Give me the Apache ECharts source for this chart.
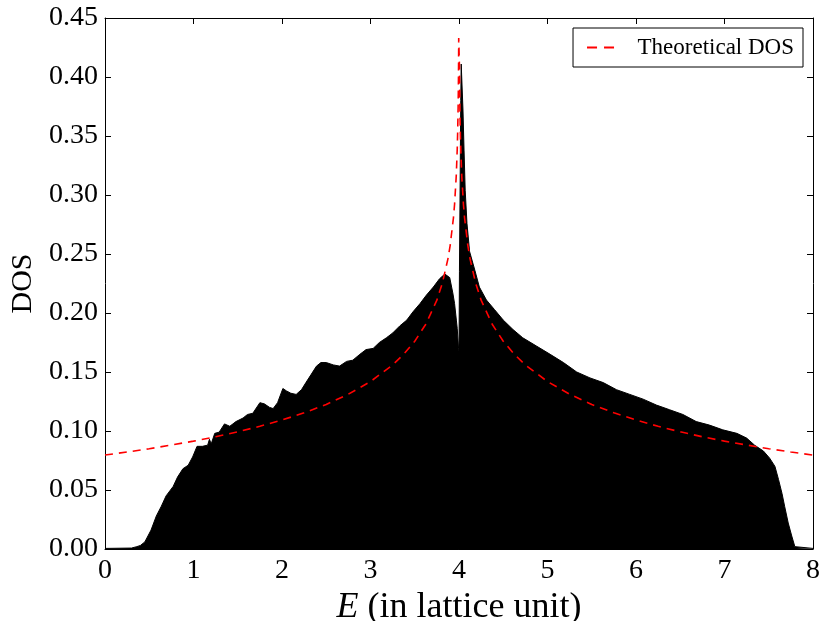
<!DOCTYPE html>
<html>
<head>
<meta charset="utf-8">
<script src="https://cdn.jsdelivr.net/npm/echarts@6/dist/echarts.min.js"></script>
<style>
html,body{margin:0;padding:0;background:#fff;}
#chart{width:820px;height:621px;}
</style>
</head>
<body>
<div id="chart"></div>
<script>
// Histogram (simulated DOS)
const histE = [0.00,0.30,0.36,0.40,0.45,0.52,0.58,0.635,0.69,0.77,0.82,0.88,0.94,0.99,1.04,1.10,1.16,1.18,1.20,1.24,1.29,1.35,1.41,1.48,1.56,1.61,1.67,1.75,1.80,1.86,1.90,1.95,2.01,2.05,2.10,2.16,2.22,2.27,2.33,2.39,2.44,2.50,2.58,2.65,2.73,2.80,2.88,2.95,3.03,3.10,3.18,3.25,3.33,3.41,3.48,3.56,3.63,3.71,3.78,3.84,3.895,3.93,3.95,3.97,3.98,3.995,4.000,4.005,4.020,4.025,4.040,4.045,4.057,4.07,4.09,4.12,4.18,4.23,4.31,4.40,4.50,4.61,4.72,4.875,5.03,5.18,5.33,5.48,5.63,5.78,5.93,6.08,6.23,6.38,6.53,6.68,6.83,6.98,7.14,7.25,7.34,7.44,7.51,7.57,7.61,7.65,7.68,7.72,7.76,7.795,7.81,8.00];
const histDOS = [0.0005,0.0008,0.002,0.003,0.006,0.016,0.028,0.036,0.045,0.053,0.061,0.068,0.071,0.078,0.087,0.087,0.088,0.093,0.089,0.098,0.099,0.106,0.104,0.108,0.111,0.114,0.115,0.124,0.123,0.120,0.119,0.124,0.136,0.134,0.132,0.131,0.135,0.141,0.148,0.155,0.158,0.158,0.156,0.155,0.159,0.160,0.165,0.169,0.170,0.175,0.179,0.183,0.189,0.194,0.201,0.208,0.215,0.222,0.229,0.233,0.230,0.217,0.208,0.194,0.187,0.170,0.168,0.235,0.380,0.411,0.411,0.372,0.338,0.304,0.276,0.252,0.236,0.222,0.211,0.203,0.194,0.186,0.179,0.172,0.165,0.158,0.150,0.145,0.141,0.135,0.131,0.127,0.122,0.118,0.114,0.108,0.105,0.101,0.098,0.094,0.088,0.083,0.077,0.070,0.059,0.047,0.036,0.022,0.011,0.002,0.0005,0.0005];

// Theoretical DOS curve
const theoE = [0,0.25,0.5,0.75,1.0,1.25,1.5,1.75,2.0,2.25,2.5,2.75,3.0,3.25,3.375,3.5,3.625,3.75,3.8125,3.875,3.9,3.9375,3.95,3.96875,3.98,3.985,3.99,3.993,3.995,3.9969,4.0031,4.005,4.007,4.01,4.015,4.02,4.03125,4.05,4.0625,4.1,4.125,4.1875,4.25,4.375,4.5,4.625,4.75,5.0,5.25,5.5,5.75,6.0,6.25,6.5,6.75,7.0,7.25,7.5,7.75,8.0];
const theoDOS = [0.0796,0.0822,0.0850,0.0881,0.0914,0.0951,0.0993,0.1040,0.1093,0.1154,0.1225,0.1312,0.1419,0.1560,0.1650,0.1761,0.1905,0.2109,0.2254,0.2459,0.2571,0.2809,0.2922,0.3160,0.3387,0.3532,0.3738,0.3918,0.4089,0.4330,0.4330,0.4089,0.3918,0.3738,0.3532,0.3387,0.3160,0.2922,0.2809,0.2571,0.2459,0.2254,0.2109,0.1905,0.1761,0.1650,0.1560,0.1419,0.1312,0.1225,0.1154,0.1093,0.1040,0.0993,0.0951,0.0914,0.0881,0.0850,0.0822,0.0796];

const xTicks = [0,1,2,3,4,5,6,7,8];
const yTicks = [0,0.05,0.10,0.15,0.20,0.25,0.30,0.35,0.40,0.45];

const FONT = '"Liberation Serif", "DejaVu Serif", serif';
const chart = echarts.init(document.getElementById('chart'), null, {renderer: 'canvas'});

const axisCommon = {
  axisLine: {show: true, onZero: false, lineStyle: {color: '#000', width: 1}},
  axisTick: {show: true, inside: true, length: 6, lineStyle: {color: '#000', width: 1}},
  splitLine: {show: false}
};

const option = {
  animation: false,
  backgroundColor: '#fff',
  grid: {left: 105, right: 7, top: 18, bottom: 72, containLabel: false, outerBoundsMode: 'none'},
  legend: {
    data: [{name: 'Theoretical DOS', icon: 'path://M0,0H10V2H0Z M17,0H27V2H17Z'}],
    right: 17, top: 28,
    borderColor: '#000', borderWidth: 1, borderRadius: 0,
    backgroundColor: '#fff',
    padding: [8, 9, 8, 14],
    itemWidth: 28, itemHeight: 2,
    itemStyle: {color: '#ff0000', borderWidth: 0},
    textStyle: {fontFamily: FONT, fontSize: 23, color: '#000', padding: [0, 0, 0, 18]}
  },
  xAxis: [
    Object.assign({
      type: 'value', position: 'bottom', min: xTicks[0], max: xTicks[xTicks.length-1], interval: 1,
      axisLabel: {show: true, color: '#000', fontFamily: FONT, fontSize: 28, margin: 8},
      name: '{i|E} (in lattice unit)', nameLocation: 'middle', nameGap: 38,
      nameTextStyle: {fontFamily: FONT, fontSize: 36, color: '#000',
        rich: {i: {fontFamily: FONT, fontSize: 36, fontStyle: 'italic', color: '#000'}}}
    }, axisCommon),
    Object.assign({
      type: 'value', position: 'top', min: xTicks[0], max: xTicks[xTicks.length-1], interval: 1,
      axisLabel: {show: false}
    }, axisCommon)
  ],
  yAxis: [
    Object.assign({
      type: 'value', position: 'left', min: yTicks[0], max: yTicks[yTicks.length-1], interval: 0.05,
      axisLabel: {show: true, color: '#000', fontFamily: FONT, fontSize: 28, margin: 7,
        formatter: v => v.toFixed(2)},
      name: 'DOS', nameLocation: 'middle', nameGap: 57, nameRotate: 90,
      nameTextStyle: {fontFamily: FONT, fontSize: 30, color: '#000'}
    }, axisCommon),
    Object.assign({
      type: 'value', position: 'right', min: yTicks[0], max: yTicks[yTicks.length-1], interval: 0.05,
      axisLabel: {show: false}
    }, axisCommon)
  ],
  series: [
    {
      name: 'Histogram', type: 'line', xAxisIndex: 0, yAxisIndex: 0,
      data: histE.map((e, i) => [e, histDOS[i]]),
      symbol: 'none', smooth: false,
      lineStyle: {color: '#000', width: 1},
      areaStyle: {color: '#000', opacity: 1},
      z: 2
    },
    {
      name: 'Theoretical DOS', type: 'line', xAxisIndex: 0, yAxisIndex: 0,
      data: theoE.map((e, i) => [e, theoDOS[i]]),
      symbol: 'none', smooth: false,
      itemStyle: {color: '#ff0000'},
      lineStyle: {color: '#ff0000', width: 1.6, type: [8, 6]},
      z: 3
    }
  ]
};
chart.setOption(option);
</script>
</body>
</html>
